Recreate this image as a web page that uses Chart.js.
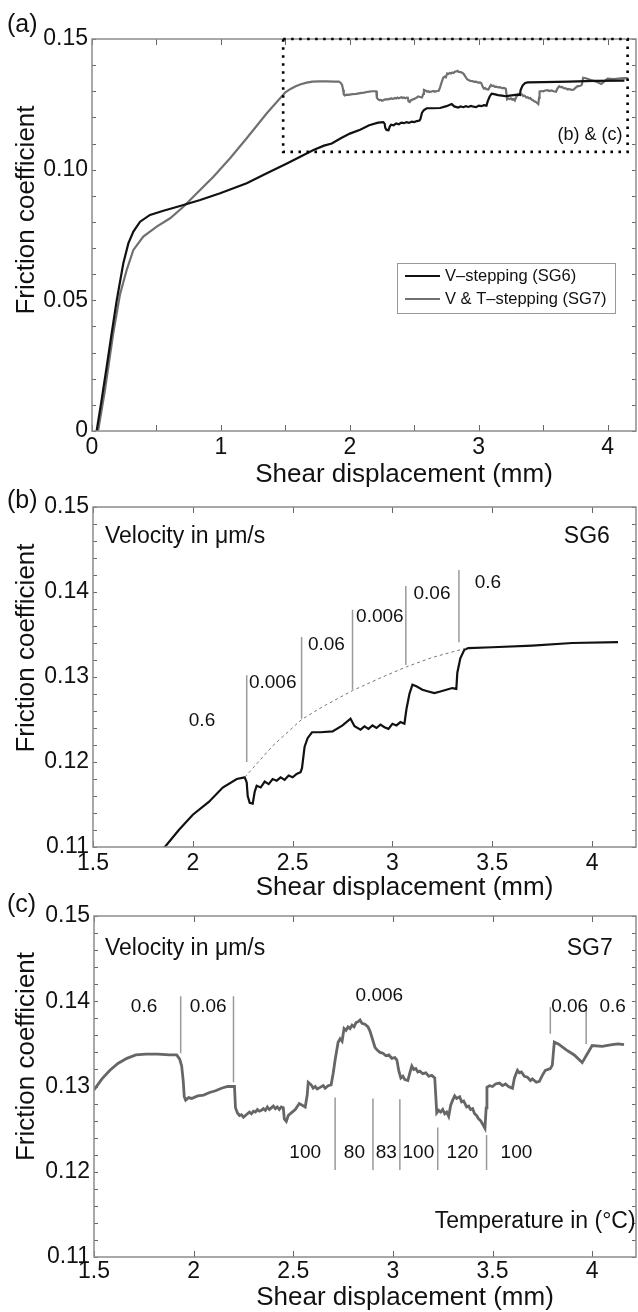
<!DOCTYPE html>
<html>
<head>
<meta charset="utf-8">
<title>Friction coefficient vs shear displacement</title>
<script src="https://cdn.jsdelivr.net/npm/chart.js@4.4.0/dist/chart.umd.min.js"></script>
<style>
  html, body { margin: 0; padding: 0; background: #fff; }
  #wrap { position: relative; width: 638px; height: 1312px; overflow: hidden; }
  #wrap canvas { position: absolute; left: 0; top: 0; }
</style>
</head>
<body>
<div id="wrap">
  <canvas id="chartA" width="638" height="1312"></canvas>
  <canvas id="chartB" width="638" height="1312"></canvas>
  <canvas id="chartC" width="638" height="1312"></canvas>
</div>
<script>
// ---- data ----
// SG6 (V-stepping) loading part, only seen in panel (a)
var sg6EarlyX = [0.036, 0.075, 0.114, 0.153, 0.192, 0.243, 0.282, 0.321, 0.373, 0.45, 0.554, 0.683, 0.839, 0.994, 1.20, 1.356, 1.512, 1.718];
var sg6EarlyY = [0, 0.012, 0.0246, 0.0375, 0.0501, 0.0642, 0.0718, 0.0763, 0.0801, 0.0827, 0.0843, 0.0861, 0.0884, 0.091, 0.0948, 0.0986, 0.1024, 0.1075];

// SG6 stepping part, panel (b)
var sg6X = [1.80, 1.86, 1.93, 2.00, 2.08, 2.15, 2.22, 2.26, 2.27, 2.275, 2.285, 2.30, 2.31, 2.32, 2.34, 2.36, 2.38, 2.40, 2.42, 2.44, 2.46, 2.48, 2.50, 2.52, 2.54,
  2.547, 2.56, 2.575, 2.597, 2.64, 2.70, 2.75, 2.79, 2.81, 2.84, 2.86, 2.88, 2.90, 2.92, 2.94, 2.96, 2.98, 3.00, 3.02, 3.04, 3.06,
  3.07, 3.085, 3.10, 3.12, 3.15, 3.18, 3.21, 3.24, 3.27, 3.30, 3.32, 3.325, 3.34, 3.36, 3.38, 3.50, 3.70, 3.90, 4.13];
var sg6Y = [0.1092, 0.1100, 0.1120, 0.1138, 0.1153, 0.1170, 0.1180, 0.1182, 0.1176, 0.1160, 0.1152, 0.1151, 0.1165, 0.1172, 0.1170, 0.1177, 0.1174, 0.1180, 0.1178, 0.1182, 0.1179, 0.1184, 0.1182, 0.1186, 0.1188,
  0.1193, 0.1218, 0.1228, 0.1235, 0.1235, 0.1236, 0.1243, 0.1251, 0.1242, 0.1238, 0.1242, 0.1239, 0.1243, 0.1240, 0.1244, 0.1241, 0.1239, 0.1245, 0.1243, 0.1247, 0.1245,
  0.1262, 0.1280, 0.1291, 0.1289, 0.1285, 0.1283, 0.1281, 0.1283, 0.1285, 0.1287, 0.1286, 0.1305, 0.1322, 0.1332, 0.1334, 0.1335, 0.1337, 0.1340, 0.1341];

// dashed trend in panel (b)
var trendX = [2.26, 2.40, 2.545, 2.65, 2.80, 2.95, 3.07, 3.20, 3.37];
var trendY = [0.1182, 0.1219, 0.1250, 0.1265, 0.1284, 0.1300, 0.1312, 0.1323, 0.1334];

// SG7 (V & T-stepping) loading part, only seen in panel (a)
var sg7EarlyX = [0.047, 0.10, 0.165, 0.217, 0.269, 0.321, 0.398, 0.502, 0.606, 0.709, 0.813, 0.942, 1.071, 1.20, 1.356];
var sg7EarlyY = [0, 0.0155, 0.0375, 0.0522, 0.0616, 0.0693, 0.0744, 0.0782, 0.0814, 0.0858, 0.091, 0.0973, 0.1044, 0.112, 0.1216];

// SG7 stepping part, panel (c)
var sg7X = [1.50, 1.54, 1.58, 1.62, 1.665, 1.71, 1.76, 1.82, 1.88, 1.915, 1.93, 1.94, 1.948, 1.953, 1.96, 1.975, 1.99, 2.02, 2.05, 2.08, 2.11, 2.14, 2.17, 2.205,
  2.21, 2.22, 2.23, 2.24, 2.25, 2.26, 2.27, 2.28, 2.29, 2.30, 2.31, 2.32, 2.33, 2.34, 2.35, 2.36, 2.37, 2.38, 2.39, 2.40, 2.41, 2.42, 2.43, 2.44, 2.45,
  2.455, 2.465, 2.475, 2.49, 2.51, 2.53, 2.545, 2.56, 2.57, 2.575,
  2.59, 2.60, 2.61, 2.62, 2.635, 2.65, 2.66, 2.675, 2.69,
  2.70, 2.71, 2.725, 2.735, 2.745, 2.755, 2.765, 2.775, 2.785, 2.795, 2.805, 2.815, 2.825, 2.835, 2.845, 2.86, 2.875, 2.885,
  2.91, 2.92, 2.935, 2.95, 2.965, 2.98, 2.995, 3.01, 3.02,
  3.03, 3.04, 3.05, 3.06, 3.075, 3.085, 3.095, 3.105, 3.115, 3.125, 3.135, 3.15, 3.165, 3.18, 3.195, 3.21,
  3.215, 3.22, 3.23, 3.24, 3.25, 3.26, 3.27, 3.28, 3.29, 3.30, 3.31, 3.32, 3.335, 3.345, 3.355, 3.37, 3.38, 3.39, 3.40, 3.41, 3.42, 3.43, 3.44, 3.45, 3.462,
  3.468, 3.472, 3.485, 3.50, 3.515, 3.535, 3.55, 3.565, 3.58, 3.59, 3.60,
  3.61, 3.625, 3.635, 3.645, 3.66, 3.675, 3.69, 3.70, 3.72, 3.735,
  3.75, 3.765, 3.79, 3.80, 3.81, 3.83, 3.87, 3.91, 3.95, 3.97, 4.00, 4.05, 4.10, 4.13, 4.16];
var sg7Y = [0.1296, 0.1309, 0.1319, 0.1327, 0.1333, 0.1337, 0.1338, 0.1338, 0.1337, 0.1337, 0.1332, 0.1324, 0.1306, 0.1288, 0.1284, 0.1287, 0.1286, 0.1289, 0.1290, 0.1293, 0.1295, 0.1298, 0.1300, 0.1300,
  0.1275, 0.1269, 0.1266, 0.1267, 0.1264, 0.1266, 0.1268, 0.1270, 0.1268, 0.1271, 0.1270, 0.1273, 0.1271, 0.1272, 0.1274, 0.1272, 0.1276, 0.1273, 0.1275, 0.1277, 0.1274, 0.1276, 0.1273, 0.1276, 0.1275,
  0.1262, 0.1259, 0.1266, 0.1269, 0.1273, 0.1280, 0.1278, 0.1276, 0.1290, 0.1305,
  0.1302, 0.1298, 0.1300, 0.1297, 0.1299, 0.1301, 0.1298, 0.1301, 0.1302,
  0.1315, 0.1331, 0.1352, 0.1356, 0.1353, 0.1368, 0.1366, 0.1370, 0.1368, 0.1372, 0.1370, 0.1375, 0.1376, 0.1378, 0.1374, 0.1373, 0.1370, 0.1365,
  0.1346, 0.1343, 0.1340, 0.1339, 0.1336, 0.1337, 0.1333, 0.1334, 0.1331,
  0.1318, 0.1310, 0.1312, 0.1308, 0.1307, 0.1316, 0.1324, 0.1320, 0.1321, 0.1317, 0.1318, 0.1315, 0.1316, 0.1312, 0.1313, 0.1310,
  0.1290, 0.1269, 0.1272, 0.1270, 0.1273, 0.1268, 0.1270, 0.1265, 0.1278, 0.1284, 0.1289, 0.1286, 0.1288, 0.1282, 0.1283, 0.1276, 0.1277, 0.1273, 0.1274, 0.1268, 0.1266, 0.1262, 0.1260, 0.1256, 0.1251,
  0.1275, 0.1299, 0.1301, 0.1300, 0.1303, 0.1304, 0.1301, 0.1303, 0.1300, 0.1299, 0.1298,
  0.1310, 0.1319, 0.1316, 0.1317, 0.1312, 0.1311, 0.1307, 0.1309, 0.1305, 0.1306,
  0.1313, 0.1319, 0.1321, 0.1325, 0.1352, 0.1350, 0.1343, 0.1337, 0.1328, 0.1336, 0.1348, 0.1347, 0.1349, 0.1350, 0.1349];

// step markers, panel (b): velocity changes
var stepBX = [2.27, 2.545, 2.80, 3.067, 3.333];
var stepBLow = [0.1200, 0.1251, 0.1285, 0.1314, 0.1341];
var stepBHigh = [0.1302, 0.1347, 0.1379, 0.1407, 0.1426];
var velLabelsB = ['0.6', '0.006', '0.06', '0.006', '0.06', '0.6'];

// step markers, panel (c): velocity (above) and temperature (below)
var velCX = [1.935, 2.20, 3.79, 3.97];
var velCLow = [0.1339, 0.1305, 0.1362, 0.1350];
var velCHigh = [0.1406, 0.1406, 0.1393, 0.1396];
var velLabelsC = ['0.6', '0.06', '0.006', '0.06', '0.6'];
var tempCX = [2.71, 2.90, 3.035, 3.225, 3.47];
var tempCTop = [0.1287, 0.1286, 0.1285, 0.1252, 0.1243];
var tempCBottom = [0.1202, 0.1202, 0.1202, 0.1202, 0.1202];
var tempLabelsC = ['100', '80', '83', '100', '120', '100'];

// tick labels
var xTicksA = [0, 0.5, 1, 1.5, 2, 2.5, 3, 3.5, 4];
var xTicksBC = [1.5, 2, 2.5, 3, 3.5, 4];
var yMajorA = [0, 0.05, 0.10, 0.15];
var yLabelsA = ['0', '0.05', '0.10', '0.15'];
var yMajorBC = [0.11, 0.12, 0.13, 0.14, 0.15];
var yLabelsBC = ['0.11', '0.12', '0.13', '0.14', '0.15'];

var FONT = "'Liberation Sans', Arial, Helvetica, sans-serif";

function pts(xs, ys) {
  return xs.map(function(x, i) { return { x: x, y: ys[i] }; });
}
// vertical marker segments in one dataset, broken by null
function segs(xs, y1, y2) {
  var out = [];
  xs.forEach(function(x, i) {
    out.push({ x: x, y: y1[i] }, { x: x, y: y2[i] }, { x: x, y: null });
  });
  return out;
}
function range(a, b, step) {
  var out = [];
  for (var v = a; v <= b + 1e-9; v += step) out.push(Math.round(v * 10000) / 10000);
  return out;
}
function labelFor(values, labels) {
  return function(v) {
    for (var i = 0; i < values.length; i++) {
      if (Math.abs(values[i] - v) < 1e-9) return labels[i];
    }
    return '';
  };
}

// box, inward ticks, texts, titles, legend
var panelDecor = {
  id: 'panelDecor',
  afterDraw: function(chart, args, o) {
    var ctx = chart.ctx, a = chart.chartArea;
    var xs = chart.scales.x, ys = chart.scales.y;
    ctx.save();

    // ticks pointing in, MATLAB style, on all four sides
    ctx.strokeStyle = '#666';
    ctx.lineWidth = 1;
    ctx.beginPath();
    xs.ticks.forEach(function(t) {
      var px = Math.round(xs.getPixelForValue(t.value)) + 0.5;
      ctx.moveTo(px, a.bottom); ctx.lineTo(px, a.bottom - 6);
      ctx.moveTo(px, a.top); ctx.lineTo(px, a.top + 6);
    });
    ys.ticks.forEach(function(t) {
      var py = Math.round(ys.getPixelForValue(t.value)) + 0.5;
      ctx.moveTo(a.left, py); ctx.lineTo(a.left + 4, py);
      ctx.moveTo(a.right, py); ctx.lineTo(a.right - 4, py);
    });
    ctx.stroke();
    ctx.strokeStyle = '#8c8c8c';
    ctx.lineWidth = 1.5;
    ctx.strokeRect(a.left, a.top, a.right - a.left, a.bottom - a.top);

    // dotted zoom box
    if (o.zoomBox) {
      var z = o.zoomBox;
      ctx.strokeStyle = '#000';
      ctx.lineWidth = 2.6;
      ctx.setLineDash([2.5, 5.5]);
      var zx1 = xs.getPixelForValue(z.x1), zx2 = xs.getPixelForValue(z.x2);
      var zy1 = ys.getPixelForValue(z.y1), zy2 = ys.getPixelForValue(z.y2);
      ctx.strokeRect(zx1, zy2, zx2 - zx1, zy1 - zy2);
      ctx.setLineDash([]);
    }

    // texts placed in data units
    ctx.fillStyle = '#111';
    ctx.textBaseline = 'middle';
    (o.notes || []).forEach(function(n) {
      ctx.font = n.size + 'px ' + FONT;
      ctx.textAlign = n.align || 'center';
      ctx.fillText(n.t, xs.getPixelForValue(n.x), ys.getPixelForValue(n.y));
    });

    // axis titles and panel letter
    ctx.textBaseline = 'alphabetic';
    ctx.textAlign = 'center';
    ctx.font = '26px ' + FONT;
    ctx.fillText('Shear displacement (mm)', (a.left + a.right) / 2 + 40, a.bottom + o.xTitleDy);
    ctx.save();
    ctx.translate(34, (a.top + a.bottom) / 2 + o.yTitleDy);
    ctx.rotate(-Math.PI / 2);
    ctx.fillText('Friction coefficient', 0, 0);
    ctx.restore();
    ctx.textAlign = 'left';
    ctx.textBaseline = 'middle';
    ctx.font = '25px ' + FONT;
    ctx.fillText(o.letter, 7, a.top + o.letterDy);

    // legend
    if (o.legend) {
      var L = o.legend, lx = a.left + L.dx, ly = a.top + L.dy;
      ctx.fillStyle = '#fff';
      ctx.fillRect(lx, ly, L.w, L.h);
      ctx.strokeStyle = '#999';
      ctx.lineWidth = 1;
      ctx.strokeRect(lx + 0.5, ly + 0.5, L.w, L.h);
      ctx.font = '16.5px ' + FONT;
      ctx.textAlign = 'left';
      ctx.textBaseline = 'middle';
      var items = chart.data.datasets.filter(function(d) { return d.label; });
      items.forEach(function(d, i) {
        var yy = ly + 13 + i * 23;
        ctx.strokeStyle = d.borderColor;
        ctx.lineWidth = d.borderWidth;
        ctx.beginPath(); ctx.moveTo(lx + 8, yy); ctx.lineTo(lx + 43, yy); ctx.stroke();
        ctx.fillStyle = '#111';
        ctx.fillText(d.label, lx + 48, yy);
      });
    }
    ctx.restore();
  }
};

function makePanel(id, cfg) {
  return new Chart(document.getElementById(id), {
    type: 'line',
    data: { datasets: cfg.datasets },
    options: {
      responsive: false,
      animation: false,
      devicePixelRatio: 1,
      events: [],
      layout: {
        padding: { left: 0, top: cfg.area.top, right: 638 - cfg.area.right, bottom: 1312 - cfg.area.bottom - 40 }
      },
      elements: { point: { radius: 0 }, line: { tension: 0 } },
      scales: {
        x: {
          type: 'linear', min: cfg.xMin, max: 4.22,
          afterFit: function(s) { s.height = 40; },
          afterBuildTicks: function(s) { s.ticks = cfg.xTicks.map(function(v) { return { value: v }; }); },
          grid: { display: false, drawTicks: false },
          border: { display: false },
          ticks: {
            padding: cfg.xPad, color: '#111', autoSkip: false, maxRotation: 0,
            font: { family: FONT, size: 23 },
            callback: cfg.xFmt
          }
        },
        y: {
          type: 'linear', min: cfg.yMin, max: 0.15,
          afterFit: function(s) { s.width = cfg.area.left; },
          afterBuildTicks: function(s) { s.ticks = cfg.yTicks.map(function(v) { return { value: v }; }); },
          grid: { display: false, drawTicks: false },
          border: { display: false },
          ticks: {
            padding: 4, color: '#111', autoSkip: false,
            font: { family: FONT, size: 23 },
            callback: cfg.yFmt
          }
        }
      },
      plugins: {
        legend: { display: false },
        tooltip: { enabled: false },
        panelDecor: cfg.decor
      }
    },
    plugins: [panelDecor]
  });
}

// ---- panel (a): both full runs ----
makePanel('chartA', {
  area: { left: 92, top: 39, right: 636, bottom: 431 },
  xMin: 0, yMin: 0, xPad: 3,
  xTicks: xTicksA,
  yTicks: range(0, 0.15, 0.01),
  xFmt: function(v) { return v % 1 === 0 ? String(v) : ''; },
  yFmt: labelFor(yMajorA, yLabelsA),
  datasets: [
    { label: 'V\u2013stepping (SG6)', data: pts(sg6EarlyX.concat(sg6X), sg6EarlyY.concat(sg6Y)),
      borderColor: '#111', borderWidth: 2.2 },
    { label: 'V & T\u2013stepping (SG7)', data: pts(sg7EarlyX.concat(sg7X), sg7EarlyY.concat(sg7Y)),
      borderColor: '#707070', borderWidth: 2.2 }
  ],
  decor: {
    letter: '(a)', letterDy: -14, xTitleDy: 51, yTitleDy: -25,
    zoomBox: { x1: 1.483, x2: 4.155, y1: 0.1068, y2: 0.15 },
    notes: [{ t: '(b) & (c)', x: 4.115, y: 0.1133, size: 18, align: 'right' }],
    legend: { dx: 305, dy: 224, w: 218, h: 50 }
  }
});

// ---- panel (b): SG6 velocity steps ----
var notesB = [
  { t: 'Velocity in \u03bcm/s', x: 1.56, y: 0.1465, size: 23, align: 'left' },
  { t: 'SG6', x: 4.089, y: 0.1465, size: 23, align: 'right' }
];
var velPosB = [[2.046, 0.1249], [2.40, 0.1293], [2.669, 0.1338], [2.937, 0.1371], [3.198, 0.1398], [3.478, 0.1411]];
velLabelsB.forEach(function(t, i) { notesB.push({ t: t, x: velPosB[i][0], y: velPosB[i][1], size: 19 }); });

makePanel('chartB', {
  area: { left: 93, top: 507, right: 636, bottom: 847 },
  xMin: 1.5, yMin: 0.11, xPad: 3,
  xTicks: xTicksBC,
  yTicks: range(0.11, 0.15, 0.002),
  xFmt: function(v) { return String(v); },
  yFmt: labelFor(yMajorBC, yLabelsBC),
  datasets: [
    { data: segs(stepBX, stepBLow, stepBHigh), borderColor: '#9a9a9a', borderWidth: 1.5 },
    { data: pts(trendX, trendY), borderColor: '#777', borderWidth: 1, borderDash: [3, 3] },
    { data: pts(sg6X, sg6Y), borderColor: '#111', borderWidth: 2.2 }
  ],
  decor: { letter: '(b)', letterDy: -6, xTitleDy: 48, yTitleDy: -29, notes: notesB }
});

// ---- panel (c): SG7 velocity and temperature steps ----
var notesC = [
  { t: 'Velocity in \u03bcm/s', x: 1.555, y: 0.1462, size: 23, align: 'left' },
  { t: 'SG7', x: 4.103, y: 0.1462, size: 23, align: 'right' },
  { t: 'Temperature in (\u00b0C)', x: 4.218, y: 0.1141, size: 23, align: 'right' }
];
var velPosC = [[1.751, 0.1394], [2.073, 0.1394], [2.932, 0.1407], [3.887, 0.1394], [4.103, 0.1394]];
velLabelsC.forEach(function(t, i) { notesC.push({ t: t, x: velPosC[i][0], y: velPosC[i][1], size: 19 }); });
var tempPosC = [2.56, 2.807, 2.967, 3.128, 3.349, 3.62];
tempLabelsC.forEach(function(t, i) { notesC.push({ t: t, x: tempPosC[i], y: 0.1222, size: 19 }); });

makePanel('chartC', {
  area: { left: 94, top: 916, right: 636, bottom: 1257 },
  xMin: 1.5, yMin: 0.11, xPad: 1,
  xTicks: xTicksBC,
  yTicks: range(0.11, 0.15, 0.002),
  xFmt: function(v) { return String(v); },
  yFmt: labelFor(yMajorBC, yLabelsBC),
  datasets: [
    { data: segs(velCX, velCLow, velCHigh), borderColor: '#9a9a9a', borderWidth: 1.5 },
    { data: segs(tempCX, tempCTop, tempCBottom), borderColor: '#9a9a9a', borderWidth: 1.5 },
    { data: pts(sg7X, sg7Y), borderColor: '#666', borderWidth: 2.8 }
  ],
  decor: { letter: '(c)', letterDy: -11, xTitleDy: 48, yTitleDy: -30, notes: notesC }
});
</script>
</body>
</html>
